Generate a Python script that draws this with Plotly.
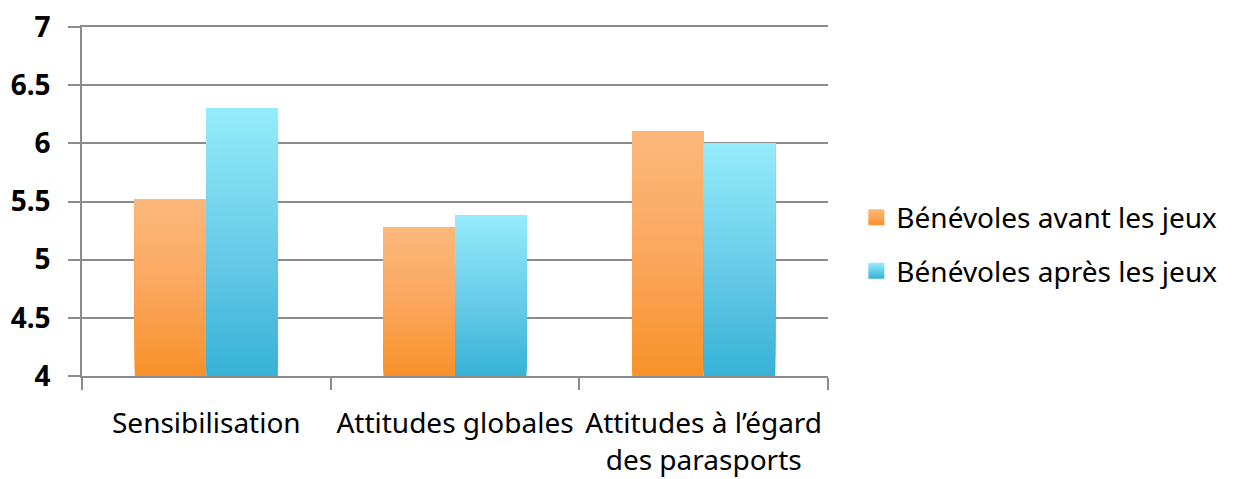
import plotly.graph_objects as go

# ---- data ----
categories = ["Sensibilisation", "Attitudes globales", "Attitudes à l’égard<br>des parasports"]
series_names = ["Bénévoles avant les jeux", "Bénévoles après les jeux"]
avant = [5.52, 5.28, 6.10]
apres = [6.30, 5.38, 6.00]
y_ticks = [4, 4.5, 5, 5.5, 6, 6.5, 7]
y_tick_labels = ["4", "4.5", "5", "5.5", "6", "6.5", "7"]
axis_base = 4

# ---- style ----
FONT = "Noto Sans"
orange_stops = [(0.0, (248, 146, 42)), (0.5, (251, 167, 95)), (1.0, (252, 185, 124))]
cyan_stops = [(0.0, (56, 178, 214)), (0.5, (108, 206, 234)), (1.0, (150, 236, 252))]
N_SEG = 60


def mix(stops, t):
    for (t0, c0), (t1, c1) in zip(stops[:-1], stops[1:]):
        if t <= t1:
            f = (t - t0) / (t1 - t0) if t1 > t0 else 0
            c = [round(a + (b - a) * f) for a, b in zip(c0, c1)]
            return "rgb(%d,%d,%d)" % tuple(c)
    return "rgb(%d,%d,%d)" % stops[-1][1]


fig = go.Figure()

for name, values, stops, group in [
    (series_names[0], avant, orange_stops, "avant"),
    (series_names[1], apres, cyan_stops, "apres"),
]:
    heights = [v - axis_base for v in values]
    # each layer spans from a rising base up to the bar's value, so the
    # overlapping layers build a bottom-to-top colour gradient with no seams
    for k in range(N_SEG):
        f = k / N_SEG
        fig.add_trace(go.Bar(
            x=categories,
            y=[h * (1 - f) for h in heights],
            base=[axis_base + h * f for h in heights],
            offsetgroup=group,
            marker=dict(color=mix(stops, f), line=dict(width=0)),
            showlegend=False,
            hoverinfo="skip",
            name=name,
        ))
    # legend entry for the series
    fig.add_trace(go.Scatter(
        x=[None], y=[None], mode="markers", name=name,
        legendgroup=group,
        marker=dict(symbol="square", size=16, color=mix(stops, 1.0),
                    gradient=dict(type="vertical", color=mix(stops, 0.0)),
                    line=dict(width=0)),
    ))

# the page body adds an 8px offset, so margins are reduced accordingly
fig.update_layout(
    width=1235, height=479,
    margin=dict(l=74, r=415, t=19, b=111, autoexpand=False),
    paper_bgcolor="white", plot_bgcolor="white",
    barmode="group", bargap=0.425, bargroupgap=0,
    font=dict(family=FONT, size=28, color="black"),
    legend=dict(
        x=1.038, y=0.378, xanchor="left", yanchor="middle",
        font=dict(family=FONT, size=28, color="black"),
        traceorder="grouped", tracegroupgap=14,
        bgcolor="rgba(0,0,0,0)",
    ),
)

fig.update_xaxes(
    type="category", automargin=False,
    showgrid=False,
    showline=True, mirror=True, linecolor="#8c8c8c", linewidth=1.5,
    ticks="outside", tickson="boundaries", ticklen=12, tickcolor="#8c8c8c", tickwidth=1.5,
    tickfont=dict(family=FONT, size=28, color="black"),
    ticklabelstandoff=22,
)
fig.update_yaxes(
    range=[4, 7], automargin=False,
    tickvals=y_ticks, ticktext=y_tick_labels,
    showgrid=True, gridcolor="#8c8c8c", gridwidth=1.5,
    showline=True, linecolor="#8c8c8c", linewidth=1.5,
    ticks="outside", ticklen=12, tickcolor="#8c8c8c", tickwidth=1.5,
    tickfont=dict(family=FONT, size=28, color="black", weight="bold"),
    ticklabelstandoff=12, ticklabeloverflow="allow",
    zeroline=False,
)

fig.write_html("out.html")
